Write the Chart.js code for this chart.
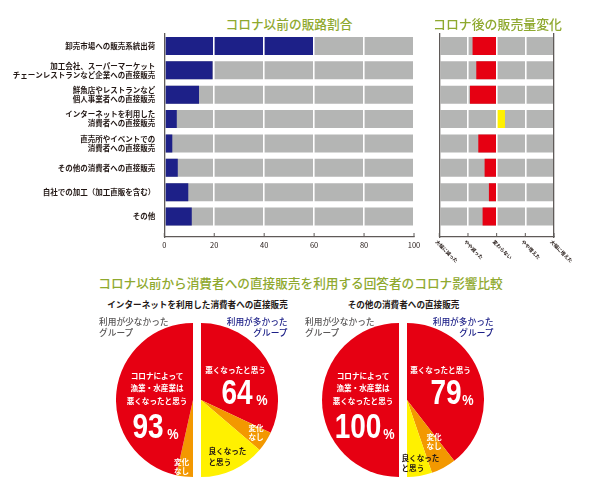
<!DOCTYPE html>
<html lang="ja">
<head>
<meta charset="utf-8">
<title>コロナ影響比較</title>
<script src="https://cdn.jsdelivr.net/npm/chart.js@4"></script>
<style>
  html, body { margin: 0; padding: 0; background: #fff; }
  body { position: relative; width: 600px; height: 494px; overflow: hidden; font-family: "Noto Sans CJK JP", sans-serif; }
  canvas { position: absolute; display: block; }
  .t { position: absolute; white-space: nowrap; line-height: 1; transform: translateY(-50%); }
  .title { color: #8fa92f; font-weight: 500; }
  .sub { color: #231815; font-weight: 700; font-size: 8.6px; }
  .less { color: #595757; font-size: 8.7px; font-weight: 500; }
  .more { color: #1d2088; font-size: 8.7px; font-weight: 500; }
  .w { color: #fff; font-size: 7.6px; font-weight: 700; }
  .k { color: #231815; font-size: 7.6px; font-weight: 700; }
  .num { color: #fff; font: 700 35px "Liberation Sans", sans-serif; }
  .pct { color: #fff; font: 700 15px "Liberation Sans", sans-serif; }
</style>
</head>
<body>
<canvas id="share-chart" width="425" height="224" style="left:0;top:33px"></canvas>
<canvas id="change-chart" width="175" height="234" style="left:400px;top:33px"></canvas>
<canvas id="pie-net-less" width="77" height="154" style="left:116px;top:323px"></canvas>
<canvas id="pie-net-more" width="77" height="154" style="left:201px;top:323px"></canvas>
<canvas id="pie-other-less" width="77" height="154" style="left:322px;top:323px"></canvas>
<canvas id="pie-other-more" width="77" height="154" style="left:407px;top:323px"></canvas>
<script>
const channels = [
  ['卸売市場への販売系統出荷'],
  ['加工会社、スーパーマーケット', 'チェーンレストランなど企業への直接販売'],
  ['鮮魚店やレストランなど', '個人事業者への直接販売'],
  ['インターネットを利用した', '消費者への直接販売'],
  ['直売所やイベントでの', '消費者への直接販売'],
  ['その他の消費者への直接販売'],
  ['自社での加工（加工直販を含む）'],
  ['その他'],
];
const shareValues = [60, 19.3, 13.9, 5, 3.2, 5.4, 9.6, 11];
const changeValues = [2.16, 2.29, 2.07, 3.29, 2.36, 2.58, 2.73, 2.51];
const changeLevels = ['大幅に減った', 'やや減った', '変わらない', 'やや増えた', '大幅に増えた'];

const netLess = [7, 93];
const netMore = [64, 8.5, 27.5];
const otherLess = [100];
const otherMore = [79, 10.5, 10.5];

const RED = '#e60012', ORANGE = '#f39800', YELLOW = '#fff100';
const NAVY = '#1d2088', GRAY = '#b4b5b4', AXIS = '#5f5a58';
const FONT = '"Noto Sans CJK JP", sans-serif';

Chart.defaults.animation = false;
Chart.defaults.responsive = false;
Chart.defaults.plugins.legend.display = false;
Chart.defaults.plugins.tooltip.enabled = false;

// short tick marks that point into the plot
const innerTicks = {
  id: 'innerTicks',
  afterDraw(chart) {
    const { ctx, scales: { x } } = chart;
    ctx.save();
    ctx.strokeStyle = AXIS;
    ctx.lineWidth = 1;
    x.ticks.forEach(t => {
      const px = x.getPixelForValue(t.value);
      ctx.beginPath();
      ctx.moveTo(px, x.top);
      ctx.lineTo(px, x.top - 4);
      ctx.stroke();
    });
    ctx.restore();
  }
};

// labels run down to the right, which the axis itself can't align
const slantedLabels = {
  id: 'slantedLabels',
  afterDraw(chart) {
    const { ctx, scales: { x } } = chart;
    ctx.save();
    ctx.font = '700 4.9px ' + FONT;
    ctx.fillStyle = '#231815';
    ctx.textBaseline = 'middle';
    changeLevels.forEach((label, i) => {
      ctx.save();
      ctx.translate(x.getPixelForValue(i + 1) - 3, x.top + 4);
      ctx.rotate(Math.PI / 4);
      ctx.fillText(label, 0, 0);
      ctx.restore();
    });
    ctx.restore();
  }
};

function rowAxis(width, ticks) {
  return {
    type: 'linear',
    reverse: true,
    offset: false,
    min: -0.53,
    max: 7.84,
    grid: { display: false, drawTicks: false },
    border: { color: AXIS, width: 1.3, z: 2 },
    ticks,
    afterBuildTicks: s => { s.ticks = channels.map((_, i) => ({ value: i })); },
    afterFit: s => {
      s.width = width;
      // labels must not shrink the plot at top and bottom
      s.paddingTop = 0;
      s.paddingBottom = 0;
    },
  };
}

function valueAxis(min, max, step, showLabels, height) {
  return {
    type: 'linear',
    min, max,
    grid: { color: '#fff', lineWidth: 1.6, z: 1, drawTicks: false },
    border: { color: AXIS, width: 1.3, z: 2 },
    ticks: {
      stepSize: step,
      display: showLabels,
      padding: 4,
      color: '#231815',
      font: { family: FONT, size: 7.5 },
    },
    afterFit: s => { s.height = height; },
  };
}

new Chart(document.getElementById('share-chart'), {
  type: 'bar',
  data: {
    datasets: [
      { data: shareValues.map((v, i) => ({ x: v, y: i })), backgroundColor: NAVY },
      { data: shareValues.map((_, i) => ({ x: 100, y: i })), backgroundColor: GRAY },
    ],
  },
  options: {
    indexAxis: 'y',
    layout: { padding: { right: 11 } },
    datasets: { bar: { grouped: false, barPercentage: 0.74, categoryPercentage: 1 } },
    scales: {
      x: valueAxis(0, 100, 20, true, 20),
      y: rowAxis(164.3, {
        autoSkip: false,
        padding: 9,
        color: '#231815',
        font: { family: FONT, size: 7.5, weight: 700, lineHeight: 1.2 },
        callback: v => channels[v],
      }),
    },
  },
  plugins: [innerTicks],
});

const rightAxis = rowAxis(0, { display: false });
rightAxis.position = 'right';

new Chart(document.getElementById('change-chart'), {
  type: 'bar',
  data: {
    datasets: [
      {
        data: changeValues.map((v, i) => ({ x: [Math.min(v, 3), Math.max(v, 3)], y: i })),
        backgroundColor: changeValues.map(v => (v < 3 ? RED : YELLOW)),
      },
      { data: changeValues.map((_, i) => ({ x: [1, 5], y: i })), backgroundColor: GRAY },
    ],
  },
  options: {
    indexAxis: 'y',
    layout: { padding: { right: 21 } },
    datasets: { bar: { grouped: false, barPercentage: 0.74, categoryPercentage: 1 } },
    scales: {
      x: valueAxis(1, 5, 1, false, 30),
      y: rowAxis(39.3, { display: false }),
      right: rightAxis,
    },
  },
  plugins: [innerTicks, slantedLabels],
});

function halfPie(id, values, colors, rotation) {
  new Chart(document.getElementById(id), {
    type: 'pie',
    data: { datasets: [{ data: values, backgroundColor: colors, borderWidth: 0 }] },
    options: { rotation, circumference: 180 },
  });
}

halfPie('pie-net-less', netLess, [ORANGE, RED], 180);
halfPie('pie-net-more', netMore, [RED, ORANGE, YELLOW], 0);
halfPie('pie-other-less', otherLess, [RED], 180);
halfPie('pie-other-more', otherMore, [RED, ORANGE, YELLOW], 0);

// text around and on the charts
function put(text, cls, x, y, align, size) {
  const el = document.createElement('div');
  el.className = 't ' + cls;
  el.textContent = text;
  el.style.top = y + 'px';
  if (size) el.style.fontSize = size + 'px';
  const squeeze = cls === 'num' ? ' scaleX(0.8)' : cls === 'pct' ? ' scaleX(0.85)' : '';
  if (align === 'center') {
    el.style.left = x + 'px';
    el.style.transform = 'translate(-50%, -50%)' + squeeze;
  } else if (align === 'right') {
    el.style.right = (600 - x) + 'px';
  } else {
    el.style.left = x + 'px';
  }
  document.body.appendChild(el);
}

put('コロナ以前の販路割合', 'title', 289, 24, 'center', 12.7);
put('コロナ後の販売量変化', 'title', 497.5, 24, 'center', 12.9);
put('コロナ以前から消費者への直接販売を利用する回答者のコロナ影響比較', 'title', 300.5, 283, 'center', 12.65);

put('インターネットを利用した消費者への直接販売', 'sub', 197.5, 304, 'center');
put('その他の消費者への直接販売', 'sub', 403.5, 304, 'center');

[[99, 287.5], [305, 493.5]].forEach(([l, r]) => {
  put('利用が少なかった', 'less', l, 321.5);
  put('グループ', 'less', l, 333);
  put('利用が多かった', 'more', r, 321.5, 'right');
  put('グループ', 'more', r, 333, 'right');
});

[157, 363].forEach(x => {
  put('コロナによって', 'w', x, 375.5, 'center');
  put('漁業・水産業は', 'w', x, 388, 'center');
  put('悪くなったと思う', 'w', x, 400.5, 'center');
});

put(netLess[1], 'num', 148, 426, 'center');
put('%', 'pct', 173, 433, 'center');
put('変化', 'w', 181.5, 461.5, 'center');
put('なし', 'w', 181.5, 470.5, 'center');

put('悪くなったと思う', 'w', 235.5, 370, 'center');
put(netMore[0], 'num', 237, 392, 'center');
put('%', 'pct', 261.5, 399, 'center');
put('変化', 'w', 256, 428, 'center');
put('なし', 'w', 256, 437, 'center');
put('良くなった', 'k', 208.5, 451);
put('と思う', 'k', 208.5, 462);

put(otherLess[0], 'num', 357.5, 426, 'center');
put('%', 'pct', 389, 433, 'center');

put('悪くなったと思う', 'w', 440.5, 370, 'center');
put(otherMore[0], 'num', 446, 392, 'center');
put('%', 'pct', 467.5, 399, 'center');
put('変化', 'w', 434, 437, 'center');
put('なし', 'w', 434, 446, 'center');
put('良くなった', 'k', 401.5, 457.5);
put('と思う', 'k', 401.5, 467.5);
</script>
</body>
</html>
